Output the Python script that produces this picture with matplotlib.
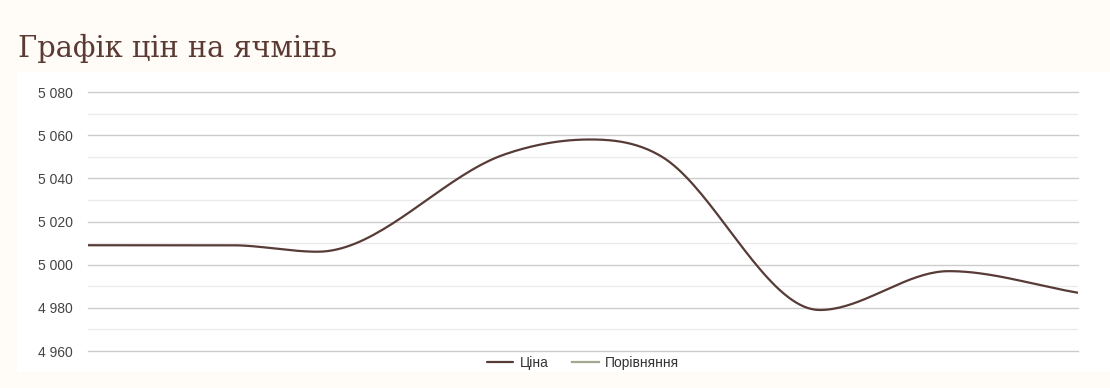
import numpy as np
import matplotlib
matplotlib.use("Agg")
import matplotlib.pyplot as plt
from matplotlib.patches import Rectangle
from matplotlib.ticker import FuncFormatter, MultipleLocator

# Price data (days from start of period, UAH/t)
days = [0, 10, 16, 29, 35, 40, 51, 60, 69]
prices = [5009, 5009, 5006, 5051, 5058, 5050, 4979, 4997, 4987]

title = "Графік цін на ячмінь"
series_names = ["Ціна", "Порівняння"]
y_ticks = [4960, 4980, 5000, 5020, 5040, 5060, 5080]

BG = "#fffbf7"
LINE = "#573b37"
CMP = "#a6a791"


def monotone_curve(x, y, per_seg=40):
    # monotone cubic (Fritsch-Carlson) for drawing the smooth line
    x = np.asarray(x, float)
    y = np.asarray(y, float)
    n = len(x)
    dx = np.diff(x)
    d = np.diff(y) / dx
    m = np.zeros(n)
    m[0], m[-1] = d[0], d[-1]
    for i in range(1, n - 1):
        if d[i - 1] * d[i] <= 0:
            m[i] = 0.0
        else:
            m[i] = (d[i - 1] + d[i]) / 2
    for i in range(n - 1):
        if d[i] == 0:
            m[i] = m[i + 1] = 0.0
            continue
        a, b = m[i] / d[i], m[i + 1] / d[i]
        s = a * a + b * b
        if s > 9:
            t = 3 / np.sqrt(s)
            m[i], m[i + 1] = t * a * d[i], t * b * d[i]
    xs, ys = [], []
    for i in range(n - 1):
        t = np.linspace(0, 1, per_seg, endpoint=(i == n - 2))
        h00 = 2 * t**3 - 3 * t**2 + 1
        h10 = t**3 - 2 * t**2 + t
        h01 = -2 * t**3 + 3 * t**2
        h11 = t**3 - t**2
        xs.append(x[i] + t * dx[i])
        ys.append(h00 * y[i] + h10 * dx[i] * m[i] + h01 * y[i + 1] + h11 * dx[i] * m[i + 1])
    return np.concatenate(xs), np.concatenate(ys)


W, H = 1110, 388
fig = plt.figure(figsize=(W / 100, H / 100), dpi=100, facecolor=BG)

# white card behind the chart
card = Rectangle((17 / W, 1 - 372 / H), 1 - 17 / W, 300 / H,
                 transform=fig.transFigure, facecolor="white",
                 edgecolor="none", zorder=0)
fig.patches.append(card)

fig.text(18 / W, 1 - 57 / H, title, fontsize=20.8, family="DejaVu Serif",
         color="#5b3a33", va="baseline", ha="left")

ax = fig.add_axes([88 / W, 1 - 351 / H, 990 / W, 259 / H])
ax.set_zorder(2)
ax.patch.set_alpha(0)

sx, sy = monotone_curve(days, prices)
ax.plot(sx, sy, color=LINE, lw=1.6, solid_capstyle="round", label=series_names[0], zorder=3)
ax.plot([], [], color=CMP, lw=1.6, label=series_names[1])

ax.set_xlim(days[0], days[-1])
ax.set_ylim(y_ticks[0], y_ticks[-1])
ax.set_yticks(y_ticks)
ax.yaxis.set_minor_locator(MultipleLocator(10))
ax.yaxis.set_major_formatter(FuncFormatter(lambda v, p: f"{int(v):,}".replace(",", " ")))
ax.grid(True, which="major", axis="y", color="#cccccc", lw=1)
ax.grid(True, which="minor", axis="y", color="#ebebeb", lw=1)
for gl in ax.get_ygridlines():
    gl.set_clip_on(False)
ax.set_xticks([])
ax.tick_params(axis="y", which="both", length=0, pad=10.8, labelsize=10,
               labelcolor="#444444")
for lab in ax.get_yticklabels():
    lab.set_family("Liberation Sans")
for s in ax.spines.values():
    s.set_visible(False)

leg = ax.legend(loc="upper center", bbox_to_anchor=(0.5, 0.03), ncol=2,
                frameon=False, handlelength=1.9, handletextpad=0.45,
                columnspacing=1.7, prop={"family": "Liberation Sans", "size": 10})
for t in leg.get_texts():
    t.set_color("#333333")

fig.savefig("out.png", dpi=100, facecolor=BG)
